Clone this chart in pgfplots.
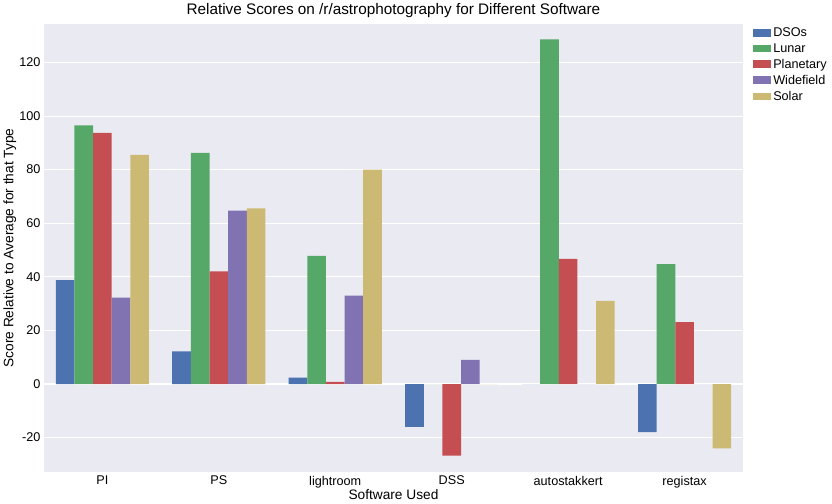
\documentclass[border=0pt]{standalone}
\usepackage{pgfplots}
\pgfplotsset{compat=1.18}
\usepackage{fontspec}
\setmainfont{Liberation Sans}
\definecolor{bgc}{HTML}{EAEAF2}
\definecolor{c1}{HTML}{4C72B0}
\definecolor{c2}{HTML}{55A868}
\definecolor{c3}{HTML}{C44E52}
\definecolor{c4}{HTML}{8172B2}
\definecolor{c5}{HTML}{CCB974}
\begin{document}
\begin{tikzpicture}
\begin{axis}[
  scale only axis, width=660bp, height=424bp,
  ybar=0pt, bar width=0.16,
  xmin=-0.5, xmax=5.5, ymin=-33, ymax=134.5,
  xtick={0,1,2,3,4,5},
  xticklabels={PI,PS,lightroom,DSS,autostakkert,registax},
  ytick={-20,0,20,40,60,80,100,120},
  /pgf/number format/assume math mode=true,
  axis background/.style={fill=bgc},
  axis line style={draw=none},
  major tick length=0pt,
  ymajorgrids, y grid style={white, line width=1pt},
  tick label style={font=\fontsize{12}{14}\selectfont},
  label style={font=\fontsize{13}{15}\selectfont},
  title style={font=\fontsize{14.5}{16}\selectfont, yshift=-4pt},
  title={Relative Scores on /r/astrophotography for Different Software},
  xlabel={Software Used},
  ylabel={Score Relative to Average for that Type},
  xlabel style={yshift=5pt}, ylabel style={yshift=-4pt},
  legend style={at={(1.01,1)}, anchor=north west, draw=none, fill=white,
    font=\fontsize{12}{14}\selectfont, row sep=1pt},
  legend image code/.code={\fill[#1] (0cm,-0.12cm) rectangle (0.6cm,0.14cm);},
  legend cell align=left,
]
\addplot[fill=c1, draw=none] coordinates {(0,38.8) (1,12.2) (2,2.4) (3,-16) (4,0) (5,-18)};
\addplot[fill=c2, draw=none] coordinates {(0,96.5) (1,86.3) (2,47.8) (3,0) (4,128.6) (5,44.7)};
\addplot[fill=c3, draw=none] coordinates {(0,93.7) (1,42) (2,0.8) (3,-26.7) (4,46.7) (5,23.1)};
\addplot[fill=c4, draw=none] coordinates {(0,32.2) (1,64.7) (2,33) (3,9) (4,0) (5,0)};
\addplot[fill=c5, draw=none] coordinates {(0,85.5) (1,65.5) (2,80) (3,0) (4,31) (5,-24)};
\legend{DSOs,Lunar,Planetary,Widefield,Solar}
\end{axis}
\end{tikzpicture}
\end{document}
